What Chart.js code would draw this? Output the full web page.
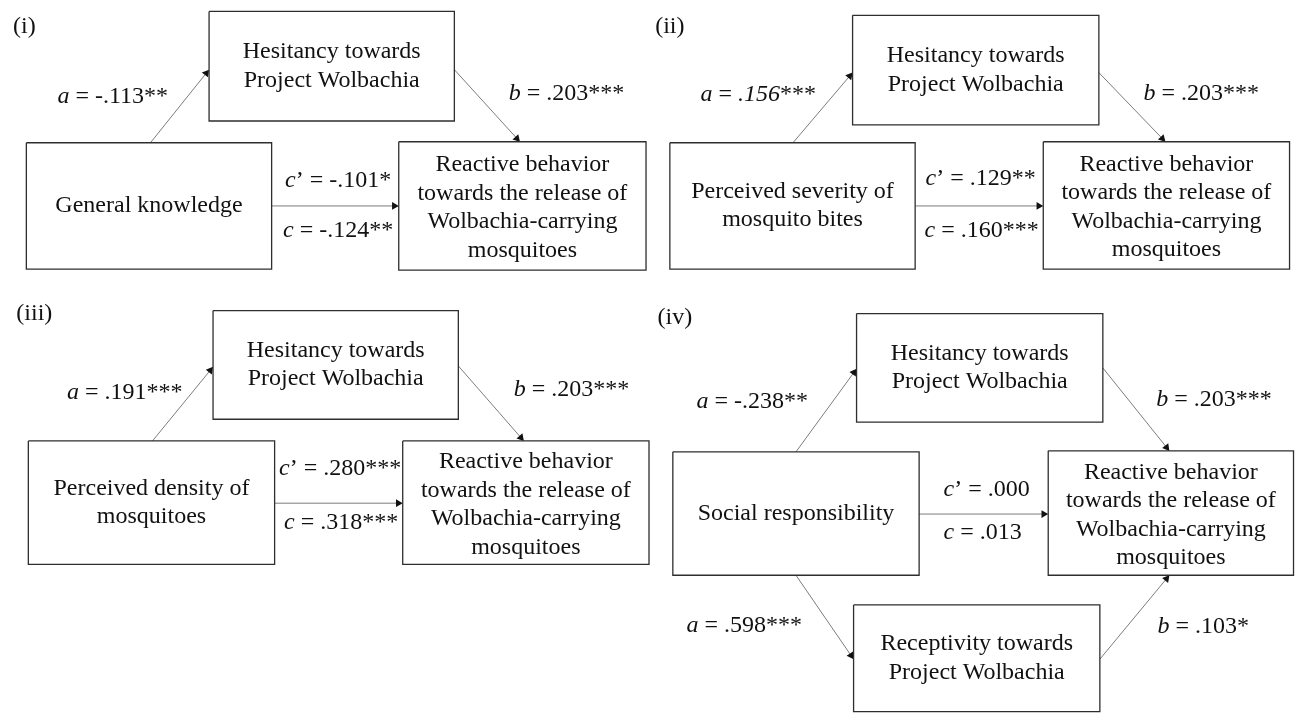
<!DOCTYPE html>
<html>
<head>
<meta charset="utf-8">
<script src="https://cdn.jsdelivr.net/npm/chart.js@4/dist/chart.umd.min.js"></script>
<style>
  html, body { margin: 0; padding: 0; background: #fff; }
  #wrap { width: 1300px; height: 719px; }
</style>
</head>
<body>
<div id="wrap"><canvas id="chart" width="1300" height="719"></canvas></div>
<script>
// --- data: names and path coefficients for the four mediation models ---
const panelTags = ["(i)", "(ii)", "(iii)", "(iv)"];
const predictorNames = [
  ["General knowledge"],
  ["Perceived severity of", "mosquito bites"],
  ["Perceived density of", "mosquitoes"],
  ["Social responsibility"]
];
const mediatorName = ["Hesitancy towards", "Project Wolbachia"];
const mediator2Name = ["Receptivity towards", "Project Wolbachia"];
const outcomeName = ["Reactive behavior", "towards the release of", "Wolbachia-carrying", "mosquitoes"];
const aValues = ["-.113**", ".156***", ".191***", "-.238**"];
const bValues = [".203***", ".203***", ".203***", ".203***"];
const cPrimeValues = ["-.101*", ".129**", ".280***", ".000"];
const cValues = ["-.124**", ".160***", ".318***", ".013"];
const a2Value = ".598***";
const b2Value = ".103*";

// --- layout (diagram units = canvas px) ---
const layout = [
  { tag: [20, 22], med: [206, 7, 453, 118], pred: [22, 140, 269, 268], out: [397, 139, 646, 269],
    aPos: [109, 93], bPos: [566, 90], cpPos: [336, 178], cPos: [336, 229],
    aArrow: [147, 140, 206, 66], bArrow: [453, 66, 519, 139], cArrow: [269, 204, 397, 204] },
  { tag: [670, 22], med: [854, 11, 1102, 122], pred: [670, 140, 917, 268], out: [1046, 139, 1294, 268],
    aPos: [759, 91], bPos: [1205, 90], cpPos: [983, 176], cPos: [984, 229],
    aArrow: [794, 140, 854, 69], bArrow: [1102, 69, 1169, 139], cArrow: [917, 204, 1046, 204] },
  { tag: [30, 313], med: [210, 310, 457, 420], pred: [24, 442, 272, 567], out: [401, 442, 649, 567],
    aPos: [121, 393], bPos: [571, 390], cpPos: [338, 470], cPos: [339, 525],
    aArrow: [149, 442, 210, 367], bArrow: [457, 366, 523, 442], cArrow: [272, 505, 401, 505] },
  { tag: [675, 317], med: [858, 313, 1106, 423], pred: [673, 453, 921, 578], out: [1051, 452, 1298, 578],
    aPos: [753, 402], bPos: [1218, 400], cpPos: [989, 491], cPos: [985, 535],
    aArrow: [797, 453, 858, 369], bArrow: [1106, 368, 1173, 452], cArrow: [921, 516, 1051, 516],
    med2: [855, 608, 1103, 716], a2Pos: [745, 629], b2Pos: [1207, 630],
    a2Arrow: [797, 578, 855, 663], b2Arrow: [1103, 663, 1173, 578] }
];

const FONT = '"Liberation Serif", "Times New Roman", serif';
const FONT_SIZE = 24;
const LINE_H = 28.5;

function boxDataset(r) {
  return {
    data: [
      { x: r[0], y: r[1] }, { x: r[2], y: r[1] }, { x: r[2], y: r[3] },
      { x: r[0], y: r[3] }, { x: r[0], y: r[1] }
    ],
    showLine: true,
    borderColor: "#2e2e2e",
    borderWidth: 1.3,
    pointRadius: 0,
    fill: false,
    clip: false
  };
}

function arrowDataset(a) {
  const dx = a[2] - a[0], dy = a[3] - a[1];
  const len = Math.hypot(dx, dy);
  const ux = dx / len, uy = dy / len;
  const r = 4.5;
  const rot = Math.atan2(ux, -uy) * 180 / Math.PI;
  return {
    data: [{ x: a[0], y: a[1] }, { x: a[2] - ux * r, y: a[3] - uy * r }],
    showLine: true,
    borderColor: "#7c7c7c",
    borderWidth: 1,
    pointRadius: [0, r],
    pointStyle: "triangle",
    pointRotation: [0, rot],
    pointBackgroundColor: "#111",
    pointBorderColor: "#111",
    pointBorderWidth: 0,
    clip: false
  };
}

// label pieces: [text, italic]
function coefLabel(sym, value, italicNum) {
  const m = value.match(/^([^*]*)(\**)$/);
  const segs = sym === "c'" ? [["c", true], ["\u2019", false]] : [[sym, true]];
  segs.push([" = ", false]);
  segs.push([m[1], !!italicNum]);
  if (m[2]) segs.push([m[2], false]);
  return segs;
}

const datasets = [];
const boxTexts = [];
const labels = [];

layout.forEach((p, i) => {
  datasets.push(boxDataset(p.med), boxDataset(p.pred), boxDataset(p.out));
  datasets.push(arrowDataset(p.aArrow), arrowDataset(p.bArrow), arrowDataset(p.cArrow));
  boxTexts.push({ rect: p.med, lines: mediatorName });
  boxTexts.push({ rect: p.pred, lines: predictorNames[i] });
  boxTexts.push({ rect: p.out, lines: outcomeName, dy: 2 });
  labels.push({ pos: p.tag, segs: [[panelTags[i], false]], left: true });
  labels.push({ pos: p.aPos, segs: coefLabel("a", aValues[i], i === 1) });
  labels.push({ pos: p.bPos, segs: coefLabel("b", bValues[i]) });
  labels.push({ pos: p.cpPos, segs: coefLabel("c'", cPrimeValues[i]) });
  labels.push({ pos: p.cPos, segs: coefLabel("c", cValues[i]) });
  if (p.med2) {
    datasets.push(boxDataset(p.med2));
    datasets.push(arrowDataset(p.a2Arrow), arrowDataset(p.b2Arrow));
    boxTexts.push({ rect: p.med2, lines: mediator2Name });
    labels.push({ pos: p.a2Pos, segs: coefLabel("a", a2Value) });
    labels.push({ pos: p.b2Pos, segs: coefLabel("b", b2Value) });
  }
});

const textPlugin = {
  id: "diagramText",
  afterDatasetsDraw(chart) {
    const { ctx, scales } = chart;
    const px = v => scales.x.getPixelForValue(v);
    const py = v => scales.y.getPixelForValue(v);
    ctx.save();
    ctx.fillStyle = "#111";
    ctx.textBaseline = "middle";

    // text inside boxes
    ctx.textAlign = "center";
    ctx.font = `${FONT_SIZE}px ${FONT}`;
    boxTexts.forEach(b => {
      const cx = px((b.rect[0] + b.rect[2]) / 2);
      const cy = py((b.rect[1] + b.rect[3]) / 2) + (b.dy || 0);
      const top = cy - (b.lines.length - 1) * LINE_H / 2;
      b.lines.forEach((t, k) => ctx.fillText(t, cx, top + k * LINE_H));
    });

    // coefficient labels and panel tags
    ctx.textAlign = "left";
    labels.forEach(l => {
      const fonts = l.segs.map(s => `${s[1] ? "italic " : ""}${FONT_SIZE}px ${FONT}`);
      let total = 0;
      const widths = l.segs.map((s, k) => {
        ctx.font = fonts[k];
        const w = ctx.measureText(s[0]).width;
        total += w;
        return w;
      });
      let x = l.left ? px(l.pos[0]) - total / 2 : px(l.pos[0]) - total / 2;
      const y = py(l.pos[1]);
      l.segs.forEach((s, k) => {
        ctx.font = fonts[k];
        ctx.fillText(s[0], x, y);
        x += widths[k];
      });
    });
    ctx.restore();
  }
};

new Chart(document.getElementById("chart"), {
  type: "scatter",
  data: { datasets },
  options: {
    responsive: false,
    animation: false,
    events: [],
    layout: { padding: 0 },
    scales: {
      x: { type: "linear", min: 0, max: 1300, display: false },
      y: { type: "linear", min: 0, max: 719, reverse: true, display: false }
    },
    plugins: {
      legend: { display: false },
      tooltip: { enabled: false }
    }
  },
  plugins: [textPlugin]
});
</script>
</body>
</html>
